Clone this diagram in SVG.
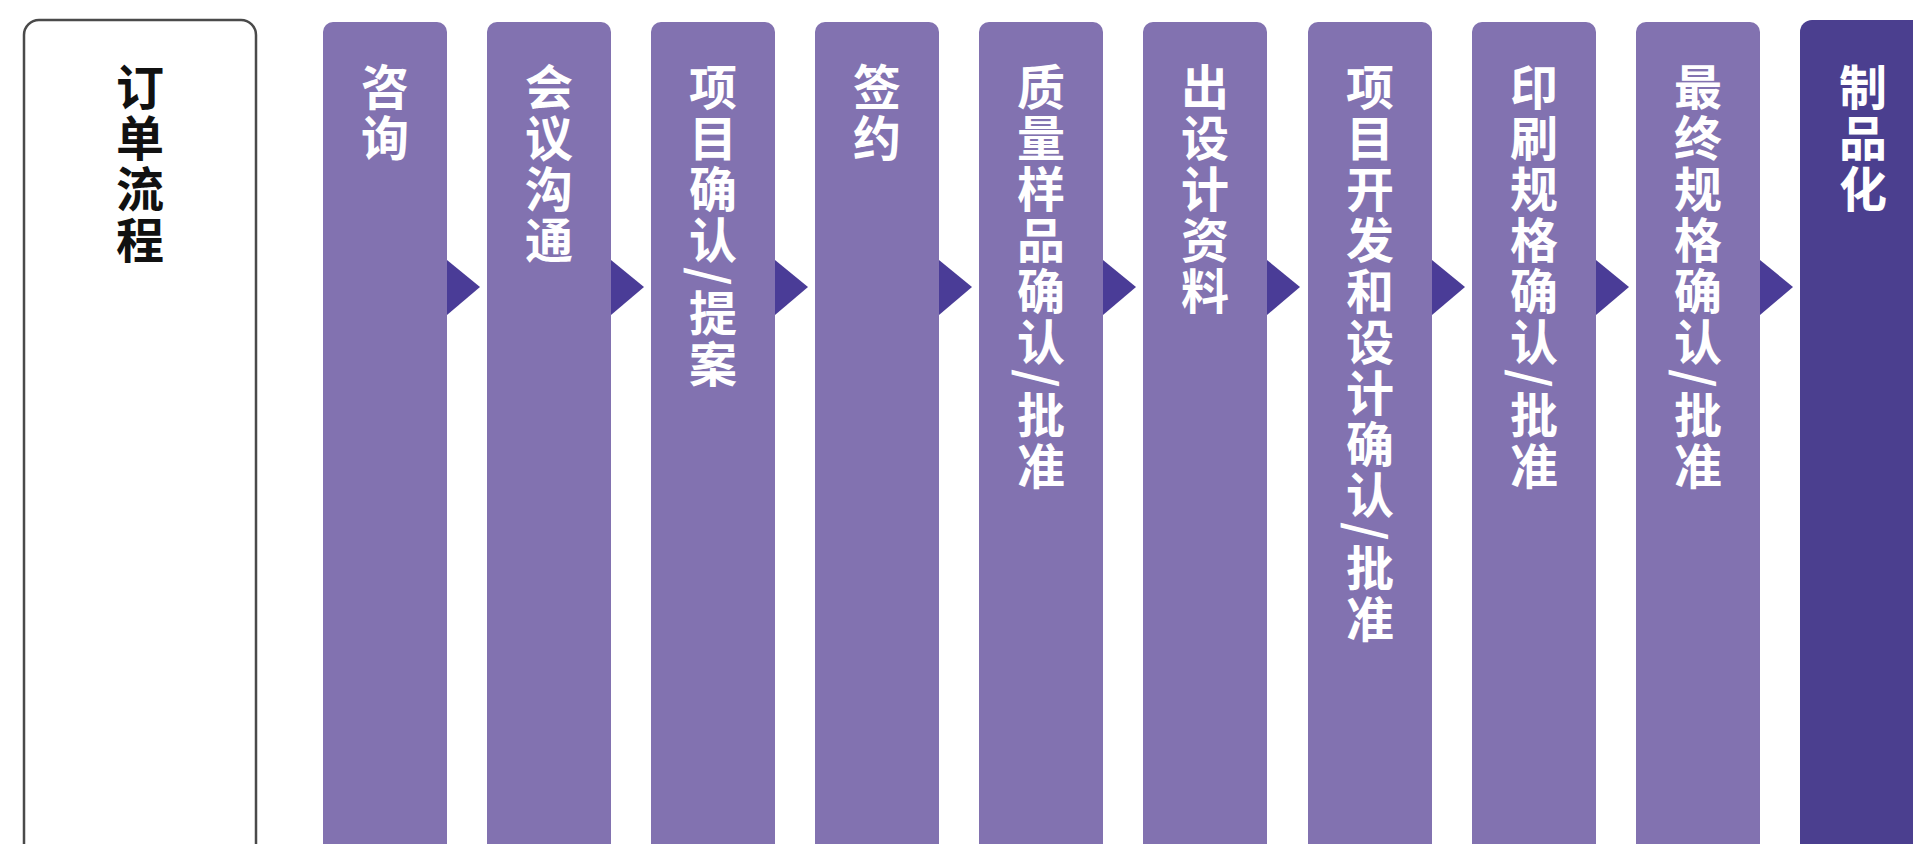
<svg xmlns="http://www.w3.org/2000/svg" width="1913" height="844" viewBox="0 0 1913 844">
<defs>
<style>
.step{fill:#8272b0}
.final{fill:#4b3f8f}
.arrow{fill:#4a3c97}
.lbl{font-family:"Noto Sans CJK SC","Noto Sans",sans-serif;font-size:48px;font-weight:bold;fill:#ffffff;writing-mode:vertical-rl;letter-spacing:3px}
.title{fill:#111111}
</style>
</defs>
<rect x="0" y="0" width="1913" height="844" fill="#ffffff"/>
<g id="node-title">
<rect x="24" y="20" width="232" height="840" rx="15" ry="15" fill="#ffffff" stroke="#4a4a4a" stroke-width="2.5"/>
<text class="lbl title" x="140" y="63">订单流程</text>
</g>
<g id="node-1"><path class="step" d="M323 32a10 10 0 0 1 10-10h104a10 10 0 0 1 10 10V850H323Z"/><text class="lbl" x="385" y="63">咨询</text></g>
<g id="node-2"><path class="step" d="M487 32a10 10 0 0 1 10-10h104a10 10 0 0 1 10 10V850H487Z"/><text class="lbl" x="549" y="63">会议沟通</text></g>
<g id="node-3"><path class="step" d="M651 32a10 10 0 0 1 10-10h104a10 10 0 0 1 10 10V850H651Z"/><text class="lbl" x="713" y="63">项目确认/提案</text></g>
<g id="node-4"><path class="step" d="M815 32a10 10 0 0 1 10-10h104a10 10 0 0 1 10 10V850H815Z"/><text class="lbl" x="877" y="63">签约</text></g>
<g id="node-5"><path class="step" d="M979 32a10 10 0 0 1 10-10h104a10 10 0 0 1 10 10V850H979Z"/><text class="lbl" x="1041" y="63">质量样品确认/批准</text></g>
<g id="node-6"><path class="step" d="M1143 32a10 10 0 0 1 10-10h104a10 10 0 0 1 10 10V850H1143Z"/><text class="lbl" x="1205" y="63">出设计资料</text></g>
<g id="node-7"><path class="step" d="M1308 32a10 10 0 0 1 10-10h104a10 10 0 0 1 10 10V850H1308Z"/><text class="lbl" x="1370" y="63">项目开发和设计确认/批准</text></g>
<g id="node-8"><path class="step" d="M1472 32a10 10 0 0 1 10-10h104a10 10 0 0 1 10 10V850H1472Z"/><text class="lbl" x="1534" y="63">印刷规格确认/批准</text></g>
<g id="node-9"><path class="step" d="M1636 32a10 10 0 0 1 10-10h104a10 10 0 0 1 10 10V850H1636Z"/><text class="lbl" x="1698" y="63">最终规格确认/批准</text></g>
<g id="node-10"><path class="final" d="M1800 32a12 12 0 0 1 12-12h100a12 12 0 0 1 12 12V850H1800Z"/><text class="lbl" x="1863" y="63">制品化</text></g>
<g id="connectors">
<path class="arrow" d="M447 260L480 287L447 315Z"/>
<path class="arrow" d="M611 260L644 287L611 315Z"/>
<path class="arrow" d="M775 260L808 287L775 315Z"/>
<path class="arrow" d="M939 260L972 287L939 315Z"/>
<path class="arrow" d="M1103 260L1136 287L1103 315Z"/>
<path class="arrow" d="M1267 260L1300 287L1267 315Z"/>
<path class="arrow" d="M1432 260L1465 287L1432 315Z"/>
<path class="arrow" d="M1596 260L1629 287L1596 315Z"/>
<path class="arrow" d="M1760 260L1793 287L1760 315Z"/>
</g>
</svg>
